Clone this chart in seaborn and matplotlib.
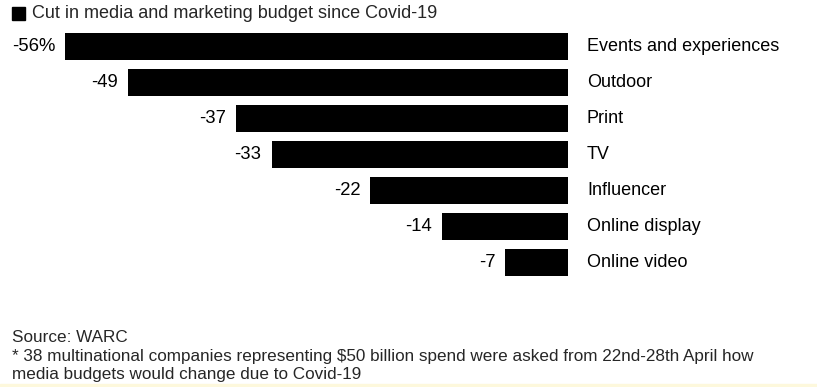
import matplotlib
matplotlib.use("Agg")
import matplotlib.pyplot as plt
import seaborn as sns
import pandas as pd
from matplotlib.patches import Rectangle

categories = ["Events and experiences", "Outdoor", "Print", "TV",
              "Influencer", "Online display", "Online video"]
values = [-56, -49, -37, -33, -22, -14, -7]
value_labels = ["-56%", "-49", "-37", "-33", "-22", "-14", "-7"]

title = "Cut in media and marketing budget since Covid-19"
source = "Source: WARC"
footnote = ("* 38 multinational companies representing $50 billion spend were asked from 22nd-28th April how\n"
            "media budgets would change due to Covid-19")

sns.set_theme(style="white")
plt.rcParams['font.family'] = ['Liberation Sans', 'DejaVu Sans']

W, H = 817, 387
fig = plt.figure(figsize=(W / 100, H / 100), dpi=100)
fig.patch.set_facecolor("white")

ax = fig.add_axes([65 / W, 1 - 280 / H, 503 / W, 252 / H])
df = pd.DataFrame({"cat": categories, "val": values})
sns.barplot(data=df, x="val", y="cat", orient="h", color="black",
            width=0.75, ax=ax, saturation=1, edgecolor="none")
ax.set_xlim(-56, 0)
ax.set_ylim(6.5, -0.5)
ax.axis("off")

for i, (v, lab, cat) in enumerate(zip(values, value_labels, categories)):
    ax.annotate(lab, xy=(v, i), xytext=(-10, 0), textcoords="offset pixels",
                ha="right", va="center", fontsize=13.3, color="black")
    ax.annotate(cat, xy=(0, i), xytext=(19, 0), textcoords="offset pixels",
                ha="left", va="center", fontsize=13, color="black")

# title with square marker
fig.patches.append(Rectangle((12 / W, 1 - 20 / H), 13 / W, 13 / H,
                             transform=fig.transFigure, color="black"))
fig.text(32 / W, 1 - 14 / H, title, ha="left", va="center", fontsize=13)

fig.text(12 / W, 1 - 338 / H, source, ha="left", va="center", fontsize=12.3)
fig.text(12 / W, 1 - 356 / H, footnote.split("\n")[0], ha="left", va="center", fontsize=12.3)
fig.text(12 / W, 1 - 374 / H, footnote.split("\n")[1], ha="left", va="center", fontsize=12.3)

# light yellow band at bottom
fig.patches.append(Rectangle((0, 0), 1, 3 / H, transform=fig.transFigure,
                             color="#fdf8dc"))

fig.savefig("out.png", dpi=100)
